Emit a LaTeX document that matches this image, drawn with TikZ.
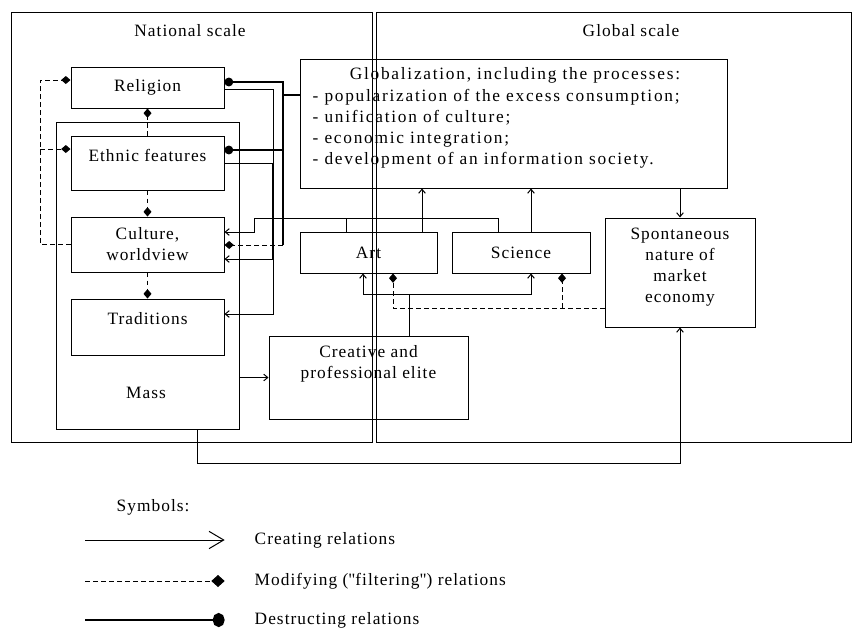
\documentclass[tikz,border=0pt]{standalone}
\usepackage{fontspec}
\setmainfont[LetterSpace=6]{Liberation Serif}
\newfontfamily\globfont[LetterSpace=10]{Liberation Serif}
\newfontfamily\qfont[LetterSpace=6]{Liberation Serif}
\usetikzlibrary{arrows.meta,%
                positioning}

\begin{document}
\begin{tikzpicture}[x=0.75pt,y=-0.75pt,
  every node/.style={font=\fontsize{13}{15.75}\selectfont,align=center},
  sz/.style 2 args={minimum width=#1*0.75pt,minimum height=#2*0.75pt},
  box/.style={draw,line width=0.75pt,inner sep=0pt},
  thin/.style={line width=0.75pt},
  cre/.style={thin,-{Straight Barb[length=3pt,width=5pt]}},
  mod/.style={thin,dash pattern=on 3.5pt off 2.5pt,-{Diamond[length=7pt,width=6pt]}},
  des/.style={line width=2pt,-{Circle[length=6.5pt]}}]
\useasboundingbox (0,0) rectangle (852,628);
%\draw[help lines] (0,0) grid (852,628);
\draw[thin] (11,12) rectangle (372,442);
\draw[thin] (376,12) rectangle (851,442);
\node (natl) at (190,31) {National scale};
\node (glbl) at (631,31) {Global scale};

\node[box,sz={153}{41}] (religion) at (147.5,87.5) {Religion};
\node[box,sz={183}{307}] (mass) at (147.5,275.5) {};
\node (masst) at (146,393) {Mass};
\node[box,sz={153}{54}] (ethnic) at (147.5,163) {};
\node (ethnict) at (147.5,155) {Ethnic features};
\node[box,sz={153}{55}] (culture) at (147.5,244.5) {Culture,\\worldview};
\node[box,sz={153}{56}] (trad) at (147.5,327) {};
\node (tradt) at (147.5,319) {Traditions};

\node[box,sz={427}{129}] (glob) at (513.5,123.5) {};
\node[font=\globfont\fontsize{13}{15.75}\selectfont] (globt) at (515,75) {Globalization, including the processes:};
\node[anchor=west,align=left,font=\globfont\fontsize{13}{15.75}\selectfont] (globl) at (308,128.5)
  {- popularization of the excess consumption;\\- unification of culture;\\%
   - economic integration;\\- development of an information society.};
\node[box,sz={137}{41}] (art) at (368.5,252.5) {Art};
\node[box,sz={138}{41}] (sci) at (521,252.5) {Science};
\node[box,sz={150}{109}] (spont) at (680,272.5) {};
\node (spontt) at (680,267) {Spontaneous\\nature of\\market\\economy};
\node[box,sz={199}{83}] (elite) at (368.5,377.5) {};
\node (elitet) at (368.5,363.5) {Creative and\\professional elite};

\coordinate (lj) at (40,149);
\coordinate (dj) at (283,95);
\coordinate (dk) at (283,245);
\coordinate (ab) at (498,218);
\coordinate (ej) at (409,294);
\coordinate (sj) at (562,308);

% modifying
\draw[mod] (culture.west) -- (40,244.5) |- (religion.west |- 0,80);
\draw[mod] (lj) -- (ethnic.west |- lj);
\draw[mod] (ethnic.north) -- (religion.south);
\draw[mod] (ethnic.south) -- (culture.north);
\draw[mod] (culture.south) -- (trad.north);
\draw[mod] (dk) -- (culture.east |- dk);
\draw[mod] (spont.west |- sj) -- (393,308) -- (art.south -| 393,0);
\draw[mod] (sj) -- (sci.south -| sj);

% destructing
\draw[des] (glob.west |- dj) -- (dj) |- (religion.east |- 0,82);
\draw[des] (dj) |- (ethnic.east |- 0,150);
\draw[line width=2pt] (dj) -- (dk);

% creating
\draw[cre] (religion.east |- 0,89) -- (273,89) -- (273,314) -- (trad.east |- 0,314);
\draw[cre] (ethnic.east |- 0,163) -- (272,163) -- (272,259) -- (culture.east |- 0,259);
\draw[thin] (art.north -| 346,0) -- (346,218);
\draw[cre] (sci.north -| ab) -- (ab) -- (254,218) -- (254,232) -- (culture.east |- 0,232);
\draw[cre] (art.north -| 422,0) -- (glob.south -| 422,0);
\draw[cre] (sci.north -| 531,0) -- (glob.south -| 531,0);
\draw[cre] (glob.south -| spont.north) -- (spont.north);
\draw[thin] (elite.north -| ej) -- (ej);
\draw[cre] (ej) -| (art.south -| 363,0);
\draw[cre] (ej) -| (sci.south -| 531,0);
\draw[cre] (mass.east |- elite.west) -- (elite.west);
\draw[cre] (mass.south -| 197,0) -- (197,463) -| (spont.south);

% symbols
\node[anchor=west] (sym) at (112,507) {Symbols:};
\node[anchor=west] (lcre) at (250,540) {Creating relations};
\node[anchor=west] (lmod) at (250,581) {Modifying ({\qfont"}filtering{\qfont"}) relations};
\node[anchor=west] (ldes) at (250,620) {Destructing relations};
\draw[thin,-{Straight Barb[length=11pt,width=13pt]}] (85,540) -- ([xshift=-19pt]lcre.west);
\draw[thin,dash pattern=on 3.5pt off 2.5pt,-{Diamond[length=10pt,width=9pt]}] (85,581) -- ([xshift=-19pt]lmod.west);
\draw[line width=2pt,-{Circle[length=9pt,width=10.5pt]}] (85,620) -- ([xshift=-19pt]ldes.west);
\end{tikzpicture}
\end{document}
